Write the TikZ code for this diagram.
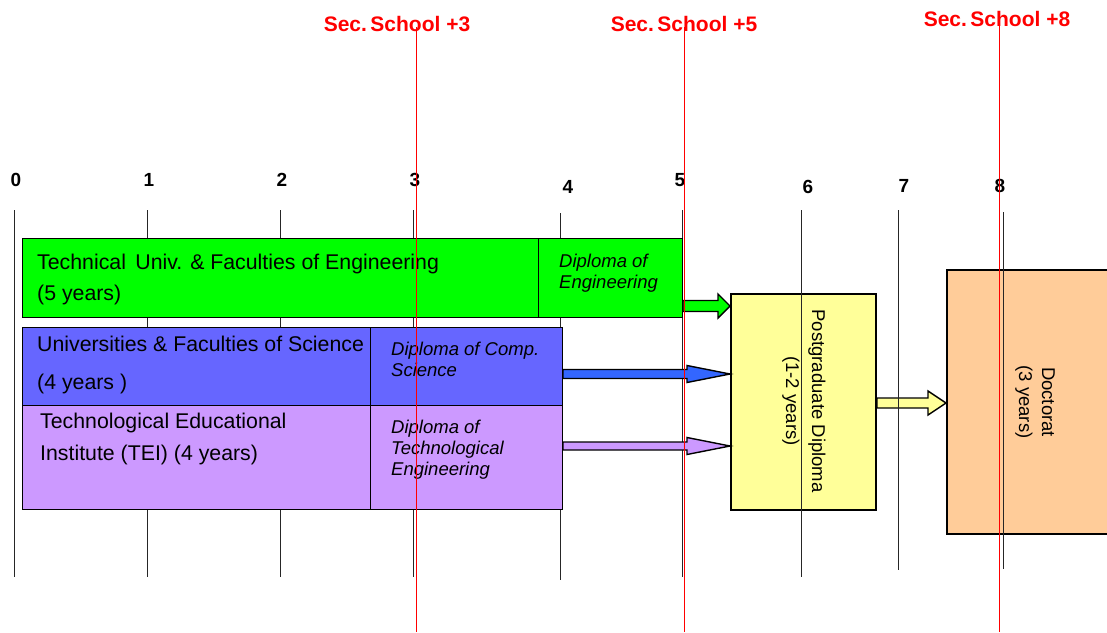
\documentclass[tikz,border=0pt]{standalone}
\usepackage{fontspec}
\setmainfont{Liberation Sans}
\usetikzlibrary{calc}
\definecolor{cgreen}{HTML}{00FF00}
\definecolor{cblue}{HTML}{6666FF}
\definecolor{cpurple}{HTML}{CC99FF}
\definecolor{carrblue}{HTML}{3366FF}
\definecolor{cyellow}{HTML}{FFFF99}
\definecolor{corange}{HTML}{FFCC99}
\definecolor{cred}{HTML}{FF0000}
\newcommand\blockarr[6]{%
  \filldraw[fill=#6, draw=black, line width=1.4pt, line join=miter]
    ($(#1)+(0,-#3)$) -- ($(#2)+(-#5,-#3)$) -- ($(#2)+(-#5,-#4)$) -- (#2)
    -- ($(#2)+(-#5,#4)$) -- ($(#2)+(-#5,#3)$) -- ($(#1)+(0,#3)$) -- cycle;}
\tikzset{
  box/.style={draw=black, line width=1pt, anchor=north west, inner sep=0pt},
  bigbox/.style={draw=black, line width=2pt, anchor=north west, inner sep=0pt},
  tick/.style={draw=black!85, line width=0.8pt},
  redline/.style={draw=cred, line width=0.9pt},
  ticklabel/.style={font=\fontsize{19}{22}\selectfont\bfseries, anchor=center},
  redlabel/.style={font=\fontsize{21}{24}\selectfont\bfseries, text=cred, anchor=center},
  maintext/.style={font=\fontsize{21.3}{31}\selectfont, anchor=base west, inner sep=0pt, align=left},
  diptext/.style={font=\fontsize{18.5}{21}\selectfont\itshape, anchor=base west, inner sep=0pt, align=left},
  rottext/.style={font=\fontsize{18.5}{26}\selectfont, rotate=-90, align=center},
}
\begin{document}
\begin{tikzpicture}[x=1pt,y=-1pt]
\useasboundingbox (0,0) rectangle (1107,632);
% ticks under boxes
\foreach \n/\x/\a/\b in {t0/14/210/577,t1/147/210/577,t2/280/210/577,t3/413/210/577,t4/560/213/580,t5/682/210/577}{
  \coordinate (\n top) at (\x,\a); \coordinate (\n bot) at (\x,\b);
  \draw[tick] (\n top) -- (\n bot);
}
% tick labels
\node[ticklabel] (l0) at (16,180) {0};
\node[ticklabel] (l1) at (149,180) {1};
\node[ticklabel] (l2) at (282,180) {2};
\node[ticklabel] (l3) at (415,180) {3};
\node[ticklabel] (l4) at (568,187) {4};
\node[ticklabel] (l5) at (680,180) {5};
\node[ticklabel] (l6) at (808,187) {6};
\node[ticklabel] (l7) at (904,186) {7};
\node[ticklabel] (l8) at (1000,186) {8};
% boxes
\node[box, fill=cgreen, minimum width=516pt, minimum height=79pt] (tech) at (22,238) {};
\node[box, fill=cgreen, minimum width=144pt, minimum height=79pt] (techdip) at (538,238) {};
\node[box, fill=cblue, minimum width=348pt, minimum height=78pt] (sci) at (22,327) {};
\node[box, fill=cblue, minimum width=192pt, minimum height=78pt] (scidip) at (370,327) {};
\node[box, fill=cpurple, minimum width=348pt, minimum height=104pt] (tei) at (22,405) {};
\node[box, fill=cpurple, minimum width=192pt, minimum height=104pt] (teidip) at (370,405) {};
\node[bigbox, fill=cyellow, minimum width=145pt, minimum height=216pt] (pg) at (730,293) {};
\node[bigbox, fill=corange, minimum width=175pt, minimum height=264pt] (doc) at (946,269) {};
% texts (anchor = baseline of the last line)
\node[maintext] (techtxt) at (37,300) {Technical\, Univ. \& Faculties of Engineering\\(5 years)};
\node[diptext] (techdiptxt) at (559,288) {Diploma of\\Engineering};
\node[maintext, font=\fontsize{21.3}{38}\selectfont] (scitxt) at (37,389) {Universities \& Faculties of Science\\(4 years )};
\node[diptext] (scidiptxt) at (391,376) {Diploma of Comp.\\Science};
\node[maintext, font=\fontsize{21.3}{32}\selectfont] (teitxt) at (40,460) {Technological Educational\\Institute (TEI) (4 years)};
\node[diptext] (teidiptxt) at (391,475) {Diploma of\\Technological\\Engineering};
\node[rottext] (pgtxt) at (804,401) {Postgraduate Diploma\\(1-2 years)};
\node[rottext, font=\fontsize{18.5}{23}\selectfont] (doctxt) at (1035,402) {Doctorat\\(3 years)};
% arrows
\coordinate (ga1) at ($(techdip.south east)+(0,-12)$);
\coordinate (ga2) at (pg.west |- ga1);
\blockarr{ga1}{ga2}{5.5}{12}{12}{cgreen}
\coordinate (ba1) at (scidip.east |- 0,374);
\coordinate (ba2) at (pg.west |- ba1);
\blockarr{ba1}{ba2}{4.5}{8.5}{43}{carrblue}
\coordinate (pa1) at (teidip.east |- 0,446);
\coordinate (pa2) at (pg.west |- pa1);
\blockarr{pa1}{pa2}{4}{8.5}{43}{cpurple}
\coordinate (ya1) at ($(pg.east)+(0,1)$);
\coordinate (ya2) at (doc.west |- ya1);
\blockarr{ya1}{ya2}{5}{12}{18}{cyellow}
% ticks over boxes
\foreach \n/\x/\a/\b in {t6/801/210/577,t7/898/210/570,t8/1003/212/569}{
  \coordinate (\n top) at (\x,\a); \coordinate (\n bot) at (\x,\b);
  \draw[tick] (\n top) -- (\n bot);
}
% red lines and labels
\node[redlabel] (r3) at (397,24) {Sec.\,School +3};
\node[redlabel] (r5) at (684,24) {Sec.\,School +5};
\node[redlabel] (r8) at (997,19) {Sec.\,School +8};
\foreach \n/\x/\a in {s3/416/27,s5/684/27,s8/999/22}{
  \coordinate (\n top) at (\x,\a); \coordinate (\n bot) at (\x,632);
  \draw[redline] (\n top) -- (\n bot);
}
\end{tikzpicture}
\end{document}
